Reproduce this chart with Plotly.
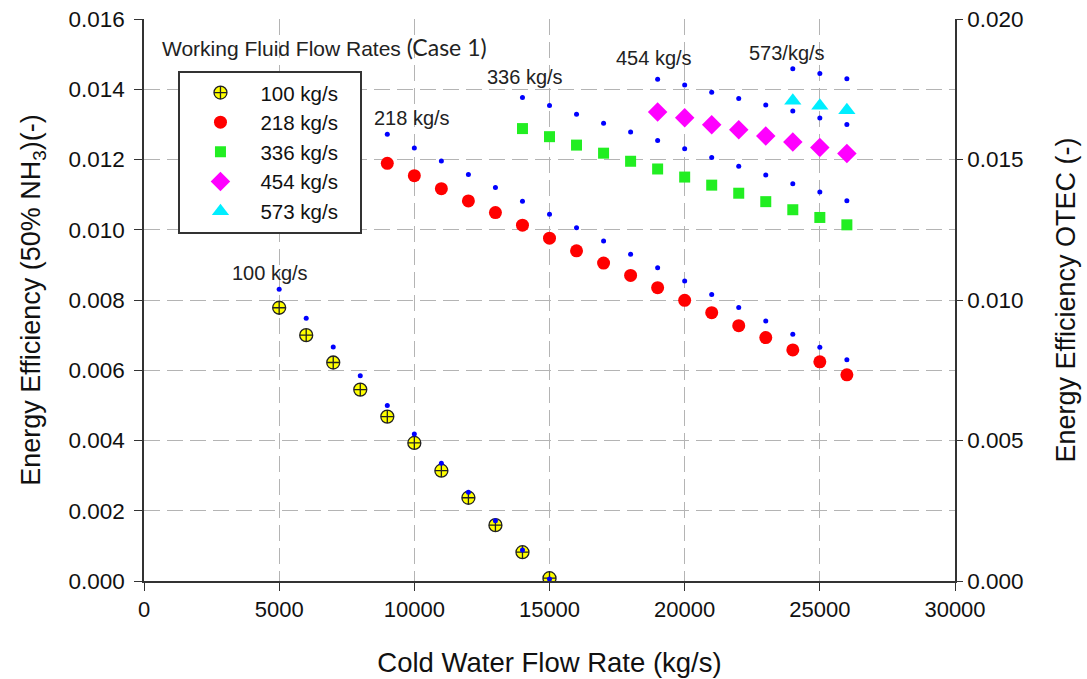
import plotly.graph_objects as go

# Cold water flow rates (kg/s) for each working-fluid case
cw_100 = [5000, 6000, 7000, 8000, 9000, 10000, 11000, 12000, 13000, 14000, 15000]
cw_218 = [9000, 10000, 11000, 12000, 13000, 14000, 15000, 16000, 17000, 18000,
          19000, 20000, 21000, 22000, 23000, 24000, 25000, 26000]
cw_336 = [14000, 15000, 16000, 17000, 18000, 19000, 20000, 21000, 22000, 23000,
          24000, 25000, 26000]
cw_454 = [19000, 20000, 21000, 22000, 23000, 24000, 25000, 26000]
cw_573 = [24000, 25000, 26000]

# Energy efficiency with 50% NH3 working fluid (left axis)
eff_100 = [0.00778, 0.00700, 0.00622, 0.00545, 0.00468, 0.00393, 0.00314,
           0.00237, 0.00159, 0.00082, 0.00008]
eff_218 = [0.01189, 0.01154, 0.01117, 0.01082, 0.01049, 0.01013, 0.00976,
           0.00940, 0.00905, 0.00870, 0.00835, 0.00799, 0.00764, 0.00727,
           0.00693, 0.00658, 0.00624, 0.00587]
eff_336 = [0.01288, 0.01265, 0.01241, 0.01218, 0.01195, 0.01173, 0.01150,
           0.01127, 0.01104, 0.01080, 0.01057, 0.01035, 0.01014]
eff_454 = [0.01335, 0.01319, 0.01299, 0.01285, 0.01267, 0.01250, 0.01234, 0.01217]
eff_573 = [0.01367, 0.01353, 0.01340]

# OTEC energy efficiency (right axis)
otec_100 = [0.01038, 0.00935, 0.00833, 0.00730, 0.00625, 0.00523, 0.00419,
            0.00316, 0.00214, 0.00110, 0.00007]
otec_218 = [0.01590, 0.01541, 0.01495, 0.01447, 0.01400, 0.01351, 0.01305,
            0.01257, 0.01210, 0.01163, 0.01115, 0.01068, 0.01020, 0.00973,
            0.00925, 0.00878, 0.00832, 0.00787]
otec_336 = [0.01721, 0.01692, 0.01661, 0.01629, 0.01598, 0.01568, 0.01538,
            0.01507, 0.01476, 0.01445, 0.01414, 0.01384, 0.01353]
otec_454 = [0.01786, 0.01765, 0.01739, 0.01717, 0.01694, 0.01673, 0.01648, 0.01625]
otec_573 = [0.01823, 0.01806, 0.01787]

series_names = ["100 kg/s", "218 kg/s", "336 kg/s", "454 kg/s", "573 kg/s"]
curve_labels = ["100 kg/s", "218 kg/s", "336 kg/s", "454 kg/s", "573/kg/s"]
label_x = [4670, 9930, 14100, 18860, 23780]
label_y = [0.00877, 0.01318, 0.01436, 0.01489, 0.01504]

FONT = "Liberation Sans, Arial, sans-serif"
PAD = "\u00a0\u00a0\u00a0"  # keeps some room between the entry text and the legend border

fig = go.Figure()

# OTEC efficiency: small blue dots on the secondary axis
for xs, ys in [(cw_100, otec_100), (cw_218, otec_218), (cw_336, otec_336),
               (cw_454, otec_454), (cw_573, otec_573)]:
    fig.add_trace(go.Scatter(
        x=xs, y=ys, yaxis="y2", mode="markers", showlegend=False,
        marker=dict(symbol="circle", size=5, color="#0000ff", line=dict(width=0)),
    ))

styles = [
    dict(symbol="circle-cross", size=13, color="#ffff00",
         line=dict(color="#222222", width=1.3)),
    dict(symbol="circle", size=13, color="#ff0000", line=dict(width=0)),
    dict(symbol="square", size=11, color="#22ee22", line=dict(width=0)),
    dict(symbol="diamond", size=15, color="#ff00ff", line=dict(width=0)),
    dict(symbol="triangle-up", size=15, color="#00eeff", line=dict(width=0)),
]
for name, xs, ys, st in zip(series_names,
                            [cw_100, cw_218, cw_336, cw_454, cw_573],
                            [eff_100, eff_218, eff_336, eff_454, eff_573],
                            styles):
    fig.add_trace(go.Scatter(x=xs, y=ys, mode="markers", name=name + PAD, marker=st))

# Flow-rate labels next to each curve
for txt, lx, ly in zip(curve_labels, label_x, label_y):
    fig.add_annotation(x=lx, y=ly, text=txt, showarrow=False,
                       font=dict(family=FONT, size=20, color="#222222"),
                       xanchor="center", yanchor="middle")

fig.add_annotation(
    x=600, y=0.01520, xanchor="left", yanchor="middle", showarrow=False,
    text="Working Fluid Flow Rates <span style='font-family:Lato, Open Sans, sans-serif;font-size:23px'>(Case 1)</span>",
    font=dict(family=FONT, size=21, color="#222222"),
)

grid = dict(showgrid=True, gridcolor="#b4b4b4", gridwidth=1.3, griddash="16px,7px")

fig.update_layout(
    width=1087, height=679,
    margin=dict(l=144, r=132, t=19, b=98),
    paper_bgcolor="white", plot_bgcolor="white",
    font=dict(family=FONT, size=22, color="#111111"),
    xaxis=dict(
        range=[0, 30000], dtick=5000, tick0=0, tickformat="d",
        showline=True, linecolor="#333333", linewidth=1.5,
        ticks="outside", ticklen=8, tickcolor="#333333",
        tickfont=dict(size=22), automargin=False,
        title=dict(text="Cold Water Flow Rate (kg/s)", font=dict(size=27.5), standoff=32),
        zeroline=False, **grid,
    ),
    yaxis=dict(
        range=[0, 0.016], dtick=0.002, tick0=0, tickformat=".3f",
        showline=True, linecolor="#333333", linewidth=1.5,
        ticks="outside", ticklen=8, tickcolor="#333333",
        tickfont=dict(size=22.5), ticklabelstandoff=5, automargin=False,
        title=dict(text="Energy Efficiency (50% NH<sub>3</sub>)(-)", font=dict(size=27), standoff=20),
        zeroline=False, **grid,
    ),
    yaxis2=dict(
        range=[0, 0.020], dtick=0.005, tick0=0, tickformat=".3f",
        overlaying="y", side="right",
        showline=True, linecolor="#333333", linewidth=1.5,
        ticks="outside", ticklen=6, tickcolor="#333333",
        tickfont=dict(size=22.5), automargin=False,
        title=dict(text="Energy Efficiency OTEC (-)", font=dict(size=27), standoff=34),
        showgrid=False, zeroline=False,
    ),
    legend=dict(
        x=0.0425, y=0.908, xanchor="left", yanchor="top",
        bgcolor="white", bordercolor="#333333", borderwidth=2,
        font=dict(family=FONT, size=20.5, color="#111111"),
        itemwidth=70, tracegroupgap=0,
    ),
)

fig.write_html("out.html")
